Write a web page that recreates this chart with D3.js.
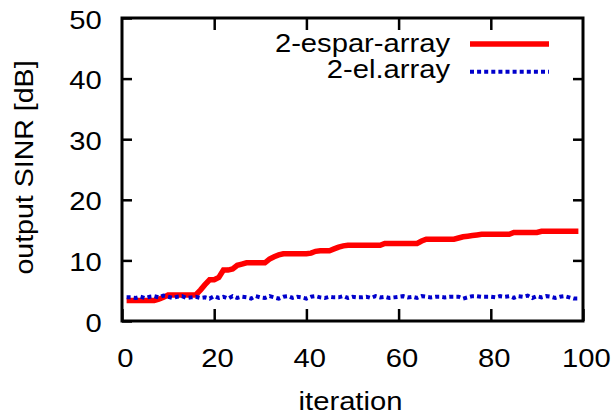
<!DOCTYPE html>
<html>
<head>
<meta charset="utf-8">
<script src="https://cdn.jsdelivr.net/npm/d3@7"></script>
<style>
  body { margin: 0; background: #fff; }
  text { font-family: "Liberation Sans", Arial, Helvetica, sans-serif; fill: #000; }
</style>
</head>
<body>
<div id="chart"></div>
<script>
// values
const iterations = d3.range(1, 100);
const espar = [
  3.4, 3.4, 3.4, 3.4, 3.4, 3.4, 3.4, 3.6, 3.9, 4.3,
  4.3, 4.3, 4.3, 4.3, 4.3, 4.3, 5.1, 6.0, 6.8, 6.8,
  7.2, 8.4, 8.4, 8.6, 9.2, 9.4, 9.6, 9.6, 9.6, 9.6,
  9.6, 10.2, 10.6, 10.9, 11.1, 11.1, 11.1, 11.1, 11.1, 11.1,
  11.2, 11.5, 11.6, 11.6, 11.6, 11.9, 12.2, 12.4, 12.5, 12.5,
  12.5, 12.5, 12.5, 12.5, 12.5, 12.5, 12.8, 12.8, 12.8, 12.8,
  12.8, 12.8, 12.8, 12.8, 13.2, 13.5, 13.5, 13.5, 13.5, 13.5,
  13.5, 13.5, 13.7, 13.9, 14.0, 14.1, 14.2, 14.3, 14.3, 14.3,
  14.3, 14.3, 14.3, 14.3, 14.6, 14.6, 14.6, 14.6, 14.6, 14.6,
  14.8, 14.8, 14.8, 14.8, 14.8, 14.8, 14.8, 14.8, 14.8
];
const elArray = [
  3.9, 3.9, 3.8, 4.0, 3.8, 4.0, 4.1, 3.9, 4.2, 4.0,
  3.8, 4.0, 4.1, 3.8, 3.9, 4.0, 3.8, 3.9, 3.7, 4.1,
  3.8, 4.0, 3.7, 4.1, 3.8, 4.0, 3.9, 3.7, 4.1, 3.9,
  3.8, 4.1, 3.9, 3.7, 4.0, 4.1, 3.8, 4.0, 3.9, 3.7,
  4.0, 4.1, 3.9, 3.8, 4.0, 3.9, 3.9, 4.1, 3.8, 4.0,
  3.9, 3.9, 4.0, 3.8, 4.1, 3.9, 4.0, 3.8, 3.9, 4.0,
  4.1, 3.9, 4.0, 3.8, 4.1, 4.0, 3.9, 4.0, 4.0, 3.9,
  4.0, 4.0, 4.0, 3.7, 3.9, 4.1, 4.1, 4.0, 4.0, 4.0,
  3.9, 4.1, 4.0, 4.1, 3.8, 4.1, 4.0, 4.2, 3.8, 4.1,
  3.9, 4.1, 4.0, 3.8, 4.0, 4.1, 3.9, 3.7, 3.7
];
const xTicks = [0, 20, 40, 60, 80, 100];
const yTicks = [0, 10, 20, 30, 40, 50];
const seriesNames = ["2-espar-array", "2-el.array"];
const seriesColors = ["#ff0000", "#0000cc"];

const width = 612, height = 415;
const plotLeft = 122, plotRight = 583, plotTop = 18, plotBottom = 321;
const stretch = 1.14; // text in the reference is a bit wider than Arial
const fontSize = 25.6;

const svg = d3.select("#chart").append("svg")
  .attr("width", width).attr("height", height);

const x = d3.scaleLinear().domain([0, 100]).range([plotLeft, plotRight]);
const y = d3.scaleLinear().domain([0, 50]).range([plotBottom, plotTop]);

// mirrored ticks on all four sides
function styleAxis(g) {
  g.select(".domain").remove();
  g.selectAll(".tick line").attr("stroke", "#000").attr("stroke-width", 2.5);
}

svg.append("g")
  .attr("transform", `translate(0,${plotBottom})`)
  .call(d3.axisBottom(x).tickValues(xTicks).tickSize(-12))
  .call(styleAxis)
  .call(g => g.selectAll(".tick text")
    .attr("dy", null).attr("y", 46).attr("x", 2.5)
    .attr("font-size", fontSize)
    .attr("transform", `scale(${stretch},1)`));

svg.append("g")
  .attr("transform", `translate(0,${plotTop})`)
  .call(d3.axisTop(x).tickValues(xTicks.slice(1, -1)).tickSize(-12).tickFormat(""))
  .call(styleAxis);

svg.append("g")
  .attr("transform", `translate(${plotLeft},0)`)
  .call(d3.axisLeft(y).tickValues(yTicks).tickSize(-10))
  .call(styleAxis)
  .call(g => g.selectAll(".tick text")
    .attr("dy", null).attr("y", 10).attr("x", -20.3 / stretch)
    .attr("font-size", fontSize)
    .attr("transform", `scale(${stretch},1)`));

svg.append("g")
  .attr("transform", `translate(${plotRight},0)`)
  .call(d3.axisRight(y).tickValues(yTicks.slice(1, -1)).tickSize(-10).tickFormat(""))
  .call(styleAxis);

// lines
const line = d3.line()
  .x(d => x(d[0]))
  .y(d => y(d[1]));

svg.append("path")
  .datum(iterations.map((it, i) => [it, espar[i]]))
  .attr("fill", "none")
  .attr("stroke", seriesColors[0])
  .attr("stroke-width", 5.5)
  .attr("d", line);

svg.append("path")
  .datum(iterations.map((it, i) => [it, elArray[i]]))
  .attr("fill", "none")
  .attr("stroke", seriesColors[1])
  .attr("stroke-width", 4)
  .attr("stroke-dasharray", "4,3.1")
  .attr("d", line);

// frame
svg.append("rect")
  .attr("x", plotLeft).attr("y", plotTop)
  .attr("width", plotRight - plotLeft).attr("height", plotBottom - plotTop)
  .attr("fill", "none").attr("stroke", "#000").attr("stroke-width", 3);

// axis titles
svg.append("text")
  .attr("transform", `translate(350.5,409.5) scale(${stretch},1)`)
  .attr("text-anchor", "middle")
  .attr("font-size", fontSize)
  .text("iteration");

svg.append("text")
  .attr("transform", `translate(33.3,167.5) rotate(-90) scale(1.115,1)`)
  .attr("text-anchor", "middle")
  .attr("font-size", fontSize)
  .text("output SINR [dB]");

// legend
const legend = svg.append("g");
seriesNames.forEach(function (name, i) {
  let base = 51.7 + i * 26.6;
  legend.append("text")
    .attr("transform", `translate(450,${base}) scale(${stretch},1)`)
    .attr("text-anchor", "end")
    .attr("font-size", fontSize)
    .text(name);
  let ly = 44 + i * 27.7;
  legend.append("line")
    .attr("x1", 470).attr("x2", 549)
    .attr("y1", ly).attr("y2", ly)
    .attr("stroke", seriesColors[i])
    .attr("stroke-width", i == 0 ? 5.5 : 4)
    .attr("stroke-dasharray", i == 0 ? null : "4,3.1");
});
</script>
</body>
</html>
